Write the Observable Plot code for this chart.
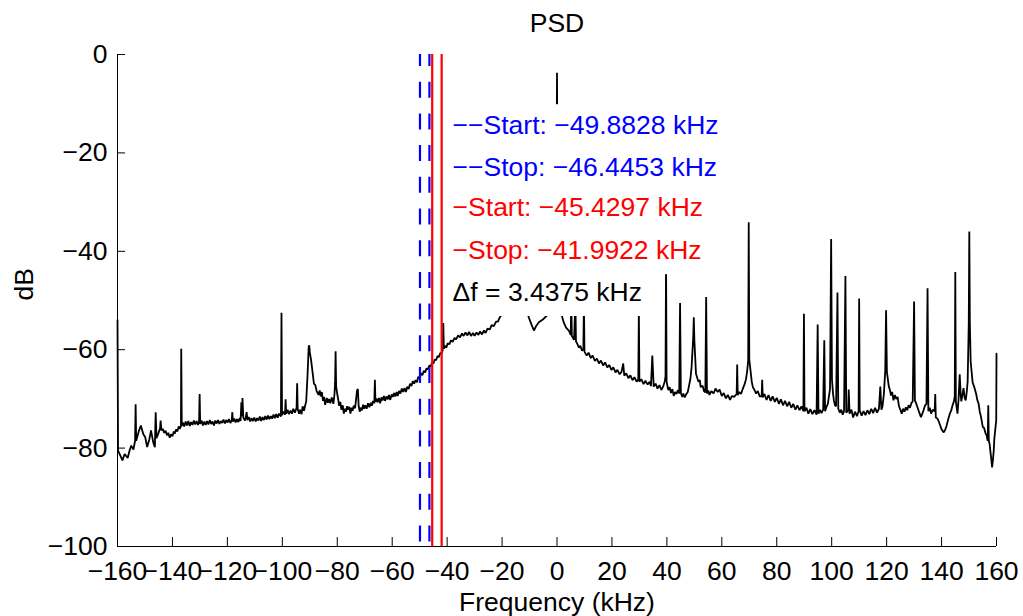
<!DOCTYPE html>
<html><head><meta charset="utf-8">
<script src="https://cdn.jsdelivr.net/npm/d3@7"></script>
<script src="https://cdn.jsdelivr.net/npm/@observablehq/plot@0.6"></script>
<style>body{margin:0;background:#fff}</style>
</head><body><div id="chart"></div>
<script>
// ---- data (frequency kHz, power dB) ----
const psdLeft = [[-160,-54],[-159.8,-80.5],[-159,-81.5],[-158.2,-82.5],[-157.4,-81.2],[-156.3,-82],[-155.6,-80.5],[-155,-79.5],[-154.2,-80.3],[-153.6,-78.5],[-153.4,-71.1],[-153.2,-78.5],[-152.2,-76.5],[-151.5,-75.4],[-150.6,-77.2],[-149.9,-77.8],[-149.2,-79.8],[-148.4,-78.2],[-147.8,-76.4],[-147,-78.8],[-146.4,-79.8],[-146.1,-72.7],[-145.8,-78],[-145.2,-77.1],[-144.5,-76],[-144.3,-74.4],[-144,-76.4],[-143.5,-76.1],[-143,-76.9],[-142.5,-76.5],[-142,-77.4],[-141.5,-76.9],[-141,-77.9],[-140.5,-77.2],[-140,-77.6],[-139.5,-76.6],[-139.2,-77.1],[-138.7,-76.2],[-138.2,-76.6],[-137.7,-75.6],[-137.3,-76.1],[-136.9,-75.5],[-136.8,-59.8],[-136.6,-75.5],[-136.2,-74.8],[-135.7,-75.6],[-135.2,-74.6],[-134.7,-75.4],[-134.2,-74.5],[-133.7,-75.5],[-133.2,-74.7],[-132.7,-75.3],[-132.2,-74.4],[-131.7,-75.2],[-131.2,-74.5],[-130.7,-75.3],[-130.3,-74.6],[-130.1,-69],[-129.9,-75.1],[-129.4,-74.4],[-128.9,-75.4],[-128.4,-74.6],[-127.9,-75.3],[-127.4,-74.5],[-126.9,-75.2],[-126.4,-74.3],[-125.9,-75.1],[-125.4,-74.6],[-124.9,-75.4],[-124.4,-74.4],[-123.9,-75],[-123.4,-74.3],[-122.9,-75.1],[-122.4,-74.5],[-121.9,-74.9],[-121.4,-74.2],[-120.9,-75],[-120.4,-74.3],[-119.9,-74.8],[-119.4,-74.1],[-118.9,-74.9],[-118.4,-74.3],[-118.2,-72.7],[-118,-74.6],[-117.5,-74],[-117,-74.8],[-116.5,-74.1],[-116,-74.7],[-115.5,-73.9],[-115.2,-74.5],[-114.9,-70.7],[-114.7,-73.5],[-114.5,-69.8],[-114.2,-73.8],[-113.6,-74.4],[-113.3,-73.8],[-113,-72.7],[-112.7,-74.3],[-112.2,-73.7],[-111.7,-74.6],[-111.2,-73.9],[-110.7,-74.5],[-110.2,-73.8],[-109.7,-74.6],[-109.2,-73.9],[-108.7,-74.4],[-108.2,-73.6],[-107.7,-74.5],[-107.2,-73.7],[-106.7,-74.3],[-106.2,-73.5],[-105.7,-74.2],[-105.2,-73.4],[-104.7,-74.1],[-104.2,-73.5],[-103.7,-74],[-103.2,-73.2],[-102.7,-73.9],[-102.2,-73.1],[-101.7,-73.8],[-101.2,-73],[-100.5,-73.6],[-100.3,-52.5],[-100.1,-73.3],[-99.5,-72.6],[-99,-73.2],[-98.8,-70.1],[-98.6,-73],[-98.1,-72.2],[-97.6,-73.1],[-97,-72.4],[-96.5,-73],[-96,-72],[-95.4,-72.8],[-94.8,-71.8],[-94.6,-66.8],[-94.4,-72],[-93.9,-73],[-93.5,-72.2],[-93,-73.1],[-92.6,-71.5],[-92.1,-72.4],[-91.7,-71.4],[-91.3,-70.5],[-90.8,-65],[-90.4,-59.4],[-90.2,-59.1],[-90,-60.5],[-89.5,-62.2],[-89,-64.5],[-88.5,-66.9],[-88,-67.2],[-87.5,-68.4],[-86.8,-69.2],[-86.4,-68.3],[-86,-69.5],[-85.6,-68.6],[-85.2,-70.4],[-84.8,-69.6],[-84.4,-71.2],[-83.8,-69.8],[-83.4,-70.8],[-83,-70],[-82.5,-70.9],[-82,-69.7],[-81.4,-71],[-81,-69],[-80.8,-66.9],[-80.6,-60.3],[-80.4,-67.5],[-80,-69],[-79.6,-70.3],[-79.3,-71.4],[-78.9,-70.6],[-78.5,-72.2],[-78,-71.3],[-77.6,-73],[-77.2,-72],[-76.8,-72.6],[-76.4,-71.5],[-76,-72.2],[-75.6,-71.6],[-75.2,-73],[-74.8,-71.8],[-74.4,-72.4],[-74,-71.4],[-73.5,-71.9],[-72.8,-68.3],[-72.5,-68],[-72.2,-71.5],[-71.8,-72.6],[-71.5,-71.8],[-71,-72.3],[-70.6,-71.2],[-70.2,-72],[-69.8,-71.3],[-69.3,-72],[-68.8,-70.9],[-68.3,-71.7],[-67.8,-70.8],[-67.4,-71.4],[-67,-70.4],[-66.5,-70.9],[-66.3,-66.1],[-66.1,-70.6],[-65.7,-69.9],[-65.3,-70.7],[-64.8,-69.8],[-64.4,-70.9],[-63.9,-69.7],[-63.5,-70.3],[-63,-69.4],[-62.6,-70.4],[-62.1,-69.5],[-61.6,-70.1],[-61.2,-69.2],[-60.7,-70.2],[-60.2,-69.1],[-59.8,-69.6],[-59.3,-68.8],[-58.9,-69.5],[-58.4,-68.6],[-58,-69.4],[-57.5,-68.4],[-57,-68.9],[-56.5,-67.9],[-56,-68.6],[-55.5,-67.8],[-55,-68.6],[-54.5,-67.5],[-54,-68],[-53.5,-66.9],[-53,-67.4],[-52.5,-66.4],[-52,-66.9],[-51.5,-66.2],[-51,-66.6],[-50.5,-65.5],[-50,-65.8],[-49.5,-64.8],[-49,-65.2],[-48.5,-64.3],[-48,-64.6],[-47.5,-63.8],[-47,-64],[-46.5,-63.2],[-46,-63.4],[-45.5,-62.6],[-45,-62.8],[-44.5,-62],[-44,-62.1],[-43.5,-61.3],[-43,-61.5],[-42.5,-60.7],[-42,-60.7],[-41.6,-60.1],[-41.4,-54.6],[-41.2,-59.8],[-40.8,-59.2],[-40.3,-59.6],[-39.8,-58.7],[-39.2,-58.9],[-38.6,-58.1],[-38,-58.4],[-37.3,-57.6],[-36.7,-57.9],[-36,-57.1],[-35.3,-57.5],[-34.6,-56.7],[-34,-57.2],[-33.3,-56.5],[-32.6,-57.1],[-32,-56.4],[-31.3,-57.2],[-30.6,-56.6],[-30,-57.2],[-29.3,-56.5],[-28.6,-57],[-28,-56.3],[-27.3,-56.9],[-26.6,-56.1],[-26,-56.6],[-25.3,-55.7],[-24.5,-55.9],[-23.8,-55],[-23,-55.2],[-22.2,-54.3],[-21.5,-54.3],[-20.8,-53.4],[-20.3,-53]];
const psdCenter = [[-18.5,-50],[-14,-49],[-11.2,-51],[-10.3,-53.4],[-9.2,-55],[-8.4,-56.1],[-7.6,-55.2],[-6.6,-54.4],[-5,-53.8],[-3.6,-53],[-2,-45],[-0.3,-40],[0,-3.7],[0.3,-40],[1.2,-48],[1.9,-53.4]];
const psdRight = [[2.5,-54.5],[3.3,-55.5],[4.3,-56.1],[5,-57],[5.2,-50],[5.4,-57.2],[6.2,-58],[6.7,-50],[6.9,-58.3],[7.4,-58.8],[8,-59.6],[8.5,-59.2],[9.1,-60.2],[9.6,-59.9],[9.8,-50],[10,-60.4],[10.8,-61.2],[11.5,-60.6],[12.3,-61.7],[13,-61.2],[13.8,-62.3],[14.5,-61.8],[15.3,-62.8],[16,-62.2],[16.8,-63.2],[17.5,-62.6],[18.3,-63.6],[19,-63.1],[19.8,-64.1],[20.5,-63.6],[21.3,-64.6],[22,-64.1],[22.8,-65],[23.5,-64.5],[24.1,-62.8],[24.5,-65.3],[25.2,-64.8],[26,-65.8],[26.7,-65.2],[27.5,-66.2],[28.2,-65.6],[29,-66.5],[29.6,-66],[29.8,-52],[30,-66.5],[30.7,-66],[31.5,-67],[32.2,-66.3],[33,-67.1],[33.7,-66.5],[34.2,-67.4],[34.7,-61.2],[35.2,-67.5],[35.9,-66.9],[36.6,-67.9],[37.3,-67.2],[38,-68.2],[38.7,-67.4],[39.2,-66.5],[39.5,-65.5],[39.7,-42],[39.9,-66.5],[40.5,-68.2],[41,-67.6],[41.5,-68.8],[42,-68],[42.5,-69.4],[43,-68.6],[43.5,-69],[44,-68.2],[44.5,-68.9],[44.8,-50.5],[45.1,-68.8],[45.6,-69.6],[46,-68.9],[46.5,-69.7],[47,-69.1],[47.6,-68.6],[48,-67.5],[48.6,-65.8],[49,-63.5],[49.6,-57.5],[49.8,-53.4],[50,-58],[50.6,-64.9],[51.1,-65.8],[51.5,-66.5],[52,-66.2],[52.3,-67.6],[53,-67.3],[53.5,-68.4],[54,-68.7],[54.3,-49.3],[54.6,-68.9],[55.1,-68.3],[55.5,-69.2],[56.2,-68.4],[57,-68.9],[57.7,-67.9],[58.5,-68.6],[59.2,-68.1],[60,-69.4],[60.7,-68.8],[61.5,-69.9],[62.2,-69.2],[63,-70.2],[63.7,-69.4],[64.5,-69.6],[65.4,-69],[65.6,-63],[65.8,-69.2],[66.4,-68.6],[67,-69],[67.6,-68],[68.3,-67],[68.8,-66],[69.2,-64.5],[69.6,-62.2],[69.8,-34.1],[70,-62],[70.5,-64.5],[70.9,-66.5],[71.3,-67.6],[71.9,-68.2],[72.5,-68.9],[73.1,-68.4],[73.8,-69.5],[74.5,-69.5],[74.7,-66.1],[74.9,-69.7],[75.5,-69],[76.3,-70.2],[77,-69.2],[77.8,-70.4],[78.5,-69.5],[79.3,-70.6],[80,-69.8],[80.8,-71],[81.5,-70.1],[82.3,-71.3],[83,-70.4],[83.8,-71.5],[84.5,-70.6],[85.3,-71.8],[86,-71],[86.8,-72.2],[87.5,-71.3],[88.3,-72.3],[89,-71.5],[89.7,-72.5],[89.9,-52.7],[90.1,-72.5],[90.8,-71.8],[91.5,-73],[92.2,-72.1],[93,-73.1],[93.7,-72.3],[94.5,-73.2],[94.9,-54.9],[95.2,-73],[95.8,-72.2],[96.3,-72.9],[96.9,-72.2],[97.3,-58.1],[97.6,-72.5],[98.1,-71.6],[98.6,-71],[99,-69.5],[99.4,-68],[99.8,-37.5],[100.1,-66],[100.5,-69],[100.8,-70.3],[101.2,-71.3],[101.6,-71.5],[102.1,-48.4],[102.4,-72],[103,-72.8],[103.5,-72.2],[104,-73.2],[104.5,-72.5],[105,-45],[105.3,-72.8],[106,-72.3],[106.2,-68.1],[106.5,-73],[107.2,-72.2],[107.8,-73.8],[108.5,-72.6],[109.2,-73.5],[109.8,-72.5],[110,-49.6],[110.2,-72.3],[110.9,-73.4],[111.6,-72.5],[112.3,-73.3],[113,-72.3],[113.7,-73.1],[114.4,-72],[115.1,-72.9],[115.8,-71.8],[116.5,-72.8],[117.2,-72],[117.7,-67.5],[118.1,-72.2],[118.5,-71.5],[119,-69],[119.5,-64.2],[119.8,-52],[120.1,-64.5],[120.8,-67.5],[121.2,-68.2],[121.6,-69.3],[122,-68.6],[122.5,-70.3],[123,-69.2],[123.5,-70],[124,-69.6],[124.5,-71.5],[125,-72.2],[125.5,-73],[126,-72],[126.5,-72.6],[127,-71.7],[127.5,-72.3],[128,-71.3],[128.5,-71.8],[129,-70.9],[129.5,-70.5],[130,-50.2],[130.3,-70.3],[130.8,-71],[131.3,-71.8],[131.9,-72.8],[132.5,-73.7],[133,-73],[133.5,-72.2],[134,-71.3],[134.5,-71],[134.9,-47.5],[135.2,-72.5],[135.7,-71.8],[136.2,-73],[136.8,-72.2],[137.5,-72.5],[137.7,-69],[137.9,-73.8],[138.5,-74],[139,-74.6],[139.5,-75.4],[140,-76.2],[140.8,-76.8],[141.3,-76.3],[141.8,-75.5],[142.4,-74.2],[143,-73],[143.5,-72.4],[144,-71.3],[144.5,-70.5],[144.8,-69.5],[145,-44.2],[145.2,-70.5],[145.8,-73],[146.2,-70],[146.6,-65],[147,-69.5],[147.2,-70.5],[147.6,-69.2],[148,-67.8],[148.4,-69.8],[148.8,-70.3],[149.2,-68.4],[149.5,-66.5],[149.9,-54.7],[150.1,-36],[150.3,-54.7],[150.6,-62.5],[151,-64.8],[151.3,-66.6],[151.9,-67.6],[152.6,-69],[153,-70.2],[153.5,-71],[153.9,-72.6],[154.3,-73.5],[154.7,-74.7],[155,-75.7],[155.5,-75.9],[156,-77],[156.4,-77.4],[156.8,-78.5],[157,-71.3],[157.2,-78.5],[157.5,-79.2],[157.8,-80.8],[158.1,-82.2],[158.4,-83.9],[158.7,-82.4],[159,-80.5],[159.2,-78.2],[159.5,-76.5],[159.9,-74.4],[160,-60.8]];

const xTicks = [-160,-140,-120,-100,-80,-60,-40,-20,0,20,40,60,80,100,120,140,160];
const yTicks = [-100,-80,-60,-40,-20,0];
const blueMarkers = [-49.8828, -46.4453];
const redMarkers = [-45.4297, -41.9922];
const annoLabels = ["−−Start: −49.8828 kHz","−−Stop: −46.4453 kHz","−Start: −45.4297 kHz","−Stop: −41.9922 kHz","Δf = 3.4375 kHz"];
const annoY = [-16.2, -24.6, -32.9, -41.6, -50.1];
const annoX = -38;
const titleText = "PSD";
const xLabelText = "Frequency (kHz)";
const yLabelText = "dB";

// ---- layout & styles ----
const W = 1023, H = 616, mL = 117, mR = 27, mT = 54, mB = 70;
const plotW = W - mL - mR, plotH = H - mT - mB;
const annoColors = ["#0000ff","#0000ff","#ff0000","#ff0000","#000000"];

const trace = [...psdLeft, ...psdCenter, ...psdRight].map(([f, db]) => ({f, db}));
const annotations = annoLabels.map((label, i) => ({label, y: annoY[i], color: annoColors[i]}));

const chart = Plot.plot({
  width: W, height: H,
  marginLeft: mL, marginRight: mR, marginTop: mT, marginBottom: mB,
  style: {fontFamily: "'Liberation Sans', Arial, Helvetica, sans-serif", fontSize: "26.5px", color: "black", background: "white", overflow: "visible"},
  x: {domain: [xTicks[0], xTicks[xTicks.length - 1]], label: null},
  y: {domain: [yTicks[0], yTicks[yTicks.length - 1]], label: null},
  color: {type: "identity"},
  marks: [
    Plot.line(trace, {x: "f", y: "db", stroke: "black", strokeWidth: 1.8, strokeLinejoin: "miter"}),
    Plot.ruleX(blueMarkers, {stroke: "#0000ff", strokeWidth: 2.2, strokeDasharray: "16,15.7", strokeDashoffset: 4}),
    Plot.ruleX(redMarkers, {stroke: "#ff0000", strokeWidth: 2.2}),
    Plot.ruleY([yTicks[0]], {stroke: "black", strokeWidth: 1}),
    Plot.ruleX([xTicks[0]], {stroke: "black", strokeWidth: 1}),
    Plot.tickX(xTicks, {stroke: "black", insetTop: plotH - 9}),
    Plot.tickY(yTicks, {stroke: "black", insetRight: plotW - 8}),
    Plot.axisX({ticks: xTicks, tickSize: 0, tickPadding: 15, label: null}),
    Plot.axisY({ticks: yTicks, tickSize: 0, tickPadding: 10, label: null}),
    Plot.text(annotations, {x: () => annoX, y: "y", text: "label", fill: "color", textAnchor: "start", lineAnchor: "bottom", ariaDescription: "annotations"}),
    Plot.text([titleText], {frameAnchor: "top", dy: -23, lineAnchor: "bottom"}),
    Plot.text([xLabelText], {frameAnchor: "bottom", dy: 64.7, lineAnchor: "bottom"}),
    Plot.text([yLabelText], {frameAnchor: "left", dx: -85, rotate: -90, lineAnchor: "bottom"})
  ]
});
document.getElementById("chart").append(chart);

// white background boxes behind the annotation texts (like MATLAB text BackgroundColor)
let annoG = chart.querySelector('g[aria-description="annotations"]');
if (!annoG) {
  const t = Array.from(chart.querySelectorAll("text")).find(e => e.textContent === annoLabels[0]);
  annoG = t && t.parentNode;
}
if (annoG) {
  const ns = "http://www.w3.org/2000/svg";
  const bg = document.createElementNS(ns, "g");
  if (annoG.getAttribute("transform")) bg.setAttribute("transform", annoG.getAttribute("transform"));
  annoG.parentNode.insertBefore(bg, annoG);
  annoG.querySelectorAll("text").forEach(t => {
    const b = t.getBBox();
    const r = document.createElementNS(ns, "rect");
    r.setAttribute("x", b.x - 3);
    r.setAttribute("y", b.y - 6);
    r.setAttribute("width", b.width + 6);
    r.setAttribute("height", b.height + 15);
    r.setAttribute("fill", "white");
    if (t.getAttribute("transform")) r.setAttribute("transform", t.getAttribute("transform"));
    bg.append(r);
  });
}
</script>
</body></html>
